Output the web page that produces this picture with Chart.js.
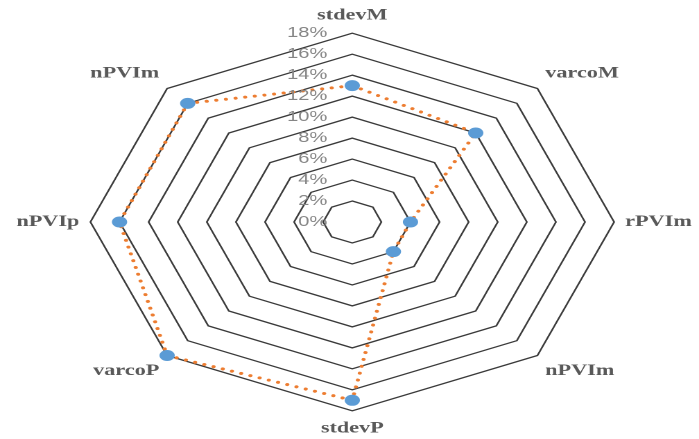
<!DOCTYPE html>
<html>
<head>
<meta charset="utf-8">
<script src="https://cdn.jsdelivr.net/npm/chart.js@4"></script>
<style>
  html, body { margin: 0; padding: 0; background: #ffffff; overflow: hidden; }
  #c { display: block; transform: scaleX(1.3869); transform-origin: 0 0; }
</style>
</head>
<body>
<canvas id="c" width="504" height="439"></canvas>
<script>
const categories = ['stdevM', 'varcoM', 'rPVIm', 'nPVIm', 'stdevP', 'varcoP', 'nPVIp', 'nPVIm'];
const seriesValues = [13, 12, 4, 4, 17, 18, 16, 16];
const tickLabels = ['0%', '2%', '4%', '6%', '8%', '10%', '12%', '14%', '16%', '18%'];

const tickLabelPlugin = {
  id: 'tickLabelPlugin',
  afterDatasetsDraw(chart) {
    const scale = chart.scales.r;
    const ctx = chart.ctx;
    ctx.save();
    ctx.font = '14.5px "Liberation Sans", Arial, sans-serif';
    ctx.fillStyle = '#858585';
    ctx.textAlign = 'right';
    ctx.textBaseline = 'middle';
    scale.ticks.forEach((t, i) => {
      const d = scale.getDistanceFromCenterForValue(t.value);
      ctx.fillText(tickLabels[i], scale.xCenter - 18, scale.yCenter - d);
    });
    ctx.restore();
  }
};

new Chart(document.getElementById('c'), {
  type: 'radar',
  data: {
    labels: categories,
    datasets: [{
      data: seriesValues,
      fill: false,
      borderColor: '#ED7D31',
      backgroundColor: 'rgba(0,0,0,0)',
      borderWidth: 3,
      borderDash: [0.01, 7],
      borderCapStyle: 'round',
      tension: 0,
      pointRadius: 5.5,
      pointBorderWidth: 0,
      pointBackgroundColor: '#5B9BD5',
      pointBorderColor: '#5B9BD5'
    }]
  },
  options: {
    responsive: false,
    animation: false,
    devicePixelRatio: 2,
    layout: { padding: { left: 8, top: 6, right: 0, bottom: 0 } },
    plugins: { legend: { display: false }, tooltip: { enabled: false } },
    scales: {
      r: {
        min: 0,
        max: 18,
        beginAtZero: true,
        angleLines: { display: false },
        grid: { circular: false, color: '#3a3a3a', lineWidth: 1.3 },
        ticks: { display: false, stepSize: 2 },
        pointLabels: {
          padding: 8,
          color: '#595959',
          font: { family: '"Liberation Serif", "Times New Roman", serif', size: 16, weight: 'bold', lineHeight: 1.2 }
        }
      }
    }
  },
  plugins: [tickLabelPlugin]
});
</script>
</body>
</html>
